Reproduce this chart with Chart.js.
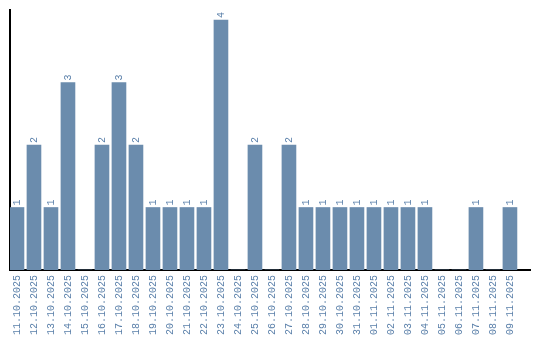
<!DOCTYPE html>
<html><head><meta charset="utf-8">
<script src="https://cdn.jsdelivr.net/npm/chart.js@4"></script>
<style>html,body{margin:0;padding:0;background:#fff}#w{width:540px;height:340px}</style>
</head><body><div id="w"><canvas id="c"></canvas></div>
<script>
const categories = ["11.10.2025","12.10.2025","13.10.2025","14.10.2025","15.10.2025","16.10.2025","17.10.2025","18.10.2025","19.10.2025","20.10.2025","21.10.2025","22.10.2025","23.10.2025","24.10.2025","25.10.2025","26.10.2025","27.10.2025","28.10.2025","29.10.2025","30.10.2025","31.10.2025","01.11.2025","02.11.2025","03.11.2025","04.11.2025","05.11.2025","06.11.2025","07.11.2025","08.11.2025","09.11.2025"];
const counts = [1,2,1,3,0,2,3,2,1,1,1,1,4,0,2,0,2,1,1,1,1,1,1,1,1,0,0,1,0,1];

const textColor = '#5b80aa';
const font = {family: 'Liberation Mono', size: 10};

const valueLabels = {
  id: 'valueLabels',
  afterDatasetsDraw(chart) {
    const ctx = chart.ctx;
    const meta = chart.getDatasetMeta(0);
    ctx.save();
    ctx.fillStyle = textColor;
    ctx.font = '10px "Liberation Mono"';
    ctx.textAlign = 'left';
    ctx.textBaseline = 'middle';
    meta.data.forEach((bar, i) => {
      const v = counts[i];
      if (!v) return;
      ctx.save();
      ctx.translate(bar.x, bar.y - 2);
      ctx.rotate(-Math.PI / 2);
      ctx.fillText(String(v), 0, 0);
      ctx.restore();
    });
    ctx.restore();
  }
};

new Chart(document.getElementById('c'), {
  type: 'bar',
  data: {
    datasets: [{
      data: counts.map((v, i) => ({x: i, y: v})),
      backgroundColor: '#6b8cad',
      barThickness: 14
    }]
  },
  options: {
    responsive: true,
    maintainAspectRatio: false,
    animation: false,
    layout: {padding: {left: 10, top: 10, right: 10, bottom: 0}},
    plugins: {legend: {display: false}, tooltip: {enabled: false}},
    scales: {
      x: {
        type: 'linear',
        offset: false,
        min: -0.41,
        max: 30.18,
        grid: {display: false, drawTicks: false, offset: false},
        border: {display: true, color: '#000', width: 2},
        afterBuildTicks(scale) { scale.ticks = categories.map((_, i) => ({value: i})); },
        afterFit(scale) { scale.height = 70; },
        ticks: {
          autoSkip: false,
          minRotation: 90,
          maxRotation: 90,
          padding: 5,
          color: textColor,
          font: font,
          callback: (v) => categories[v]
        }
      },
      y: {
        min: 0,
        max: 4.16,
        grid: {display: false},
        border: {display: true, color: '#000', width: 2},
        afterFit(scale) { scale.width = 0; },
        ticks: {display: false}
      }
    }
  },
  plugins: [valueLabels]
});
</script></body></html>
